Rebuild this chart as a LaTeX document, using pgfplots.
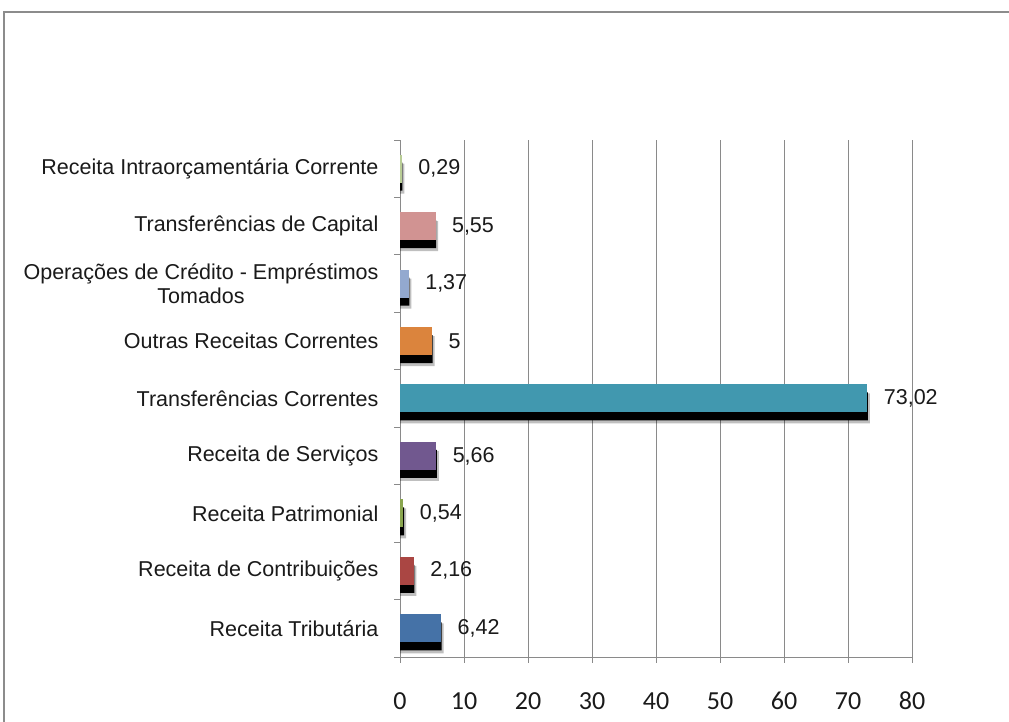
\documentclass[border=0pt]{standalone}
\usepackage{fontspec}
\setmainfont{Liberation Sans}
\newfontfamily\carlito{Carlito}
\usepackage{pgfplots}
\pgfplotsset{compat=1.18}
\definecolor{cTrib}{HTML}{4572A7}
\definecolor{cCont}{HTML}{AA4643}
\definecolor{cPatr}{HTML}{89A54E}
\definecolor{cServ}{HTML}{71588F}
\definecolor{cTrCo}{HTML}{4198AF}
\definecolor{cOutr}{HTML}{DB843D}
\definecolor{cOper}{HTML}{93A9CF}
\definecolor{cTrCa}{HTML}{D19392}
\definecolor{cIntr}{HTML}{B9CD96}
\definecolor{frame}{HTML}{8C8C8C}
\definecolor{gridc}{HTML}{8A8A8A}
\definecolor{txt}{HTML}{1A1A1A}
\begin{document}
\begin{tikzpicture}[x=1pt,y=1pt]
\useasboundingbox (0,0) rectangle (1009,722);
\fill[white] (0,0) rectangle (1009,722);
\draw[frame, line width=2pt] (4,-2) -- (4,710) -- (1011,710);
\begin{axis}[
  at={(400pt,65pt)}, anchor=south west,
  scale only axis, width=512pt, height=517pt,
  xbar, bar width=28pt, bar shift=0pt,
  xmin=0, xmax=80, ymin=-0.5, ymax=8.5,
  axis x line=bottom, axis y line=left,
  axis line style={-, draw=gridc, line width=0.8pt},
  xtick={0,10,...,80},
  tick align=outside, major tick length=6pt,
  tick style={draw=gridc, line width=0.8pt},
  xmajorgrids, grid style={draw=gridc, line width=0.8pt},
  /pgf/number format/assume math mode=true,
  xticklabel style={font=\carlito\fontsize{26}{26}\selectfont, text height=17pt, text depth=0pt, yshift=-26pt, text=txt},
  ytick={-0.5,0.5,...,8.5},
  yticklabels={{},{},{},{},{},{},{},{},{},{}},
  extra y ticks={0,1,2,3,4,5,6,7,8},
  extra y tick labels={Receita Tributária,Receita de Contribuições,Receita Patrimonial,Receita de Serviços,Transferências Correntes,Outras Receitas Correntes,{Operações de Crédito - Empréstimos\\Tomados},Transferências de Capital,Receita Intraorçamentária Corrente},
  extra y tick style={major tick length=0pt, grid=none, yticklabel style={align=center, font=\fontsize{21.5}{24}\selectfont, xshift=-18pt, text=txt}},
  point meta=explicit symbolic,
  every node near coord/.append style={font=\fontsize{21.5}{24}\selectfont, anchor=west, xshift=13pt, text=txt},
]
% soft shadow halo
\addplot[fill=black, fill opacity=0.25, draw=none, bar shift=-10pt, bar width=30pt, forget plot] coordinates {(6.82,0) (2.56,1) (0.94,2) (6.06,3) (73.42,4) (5.4,5) (1.77,6) (5.95,7) (0.69,8)};
% shadows
\addplot[fill=black, draw=none, bar shift=-8pt, forget plot] coordinates {(6.52,0) (2.26,1) (0.64,2) (5.76,3) (73.12,4) (5.1,5) (1.47,6) (5.65,7) (0.39,8)};
\addplot[fill=cTrib, draw=none, nodes near coords] coordinates {(6.42,0) [{6,42}]};
\addplot[fill=cCont, draw=none, nodes near coords] coordinates {(2.16,1) [{2,16}]};
\addplot[fill=cPatr, draw=none, nodes near coords] coordinates {(0.54,2) [{0,54}]};
\addplot[fill=cServ, draw=none, nodes near coords] coordinates {(5.66,3) [{5,66}]};
\addplot[fill=cTrCo, draw=none, nodes near coords] coordinates {(73.02,4) [{73,02}]};
\addplot[fill=cOutr, draw=none, nodes near coords] coordinates {(5,5) [5]};
\addplot[fill=cOper, draw=none, nodes near coords] coordinates {(1.37,6) [{1,37}]};
\addplot[fill=cTrCa, draw=none, nodes near coords] coordinates {(5.55,7) [{5,55}]};
\addplot[fill=cIntr, draw=none, nodes near coords] coordinates {(0.29,8) [{0,29}]};
\end{axis}
\end{tikzpicture}
\end{document}
